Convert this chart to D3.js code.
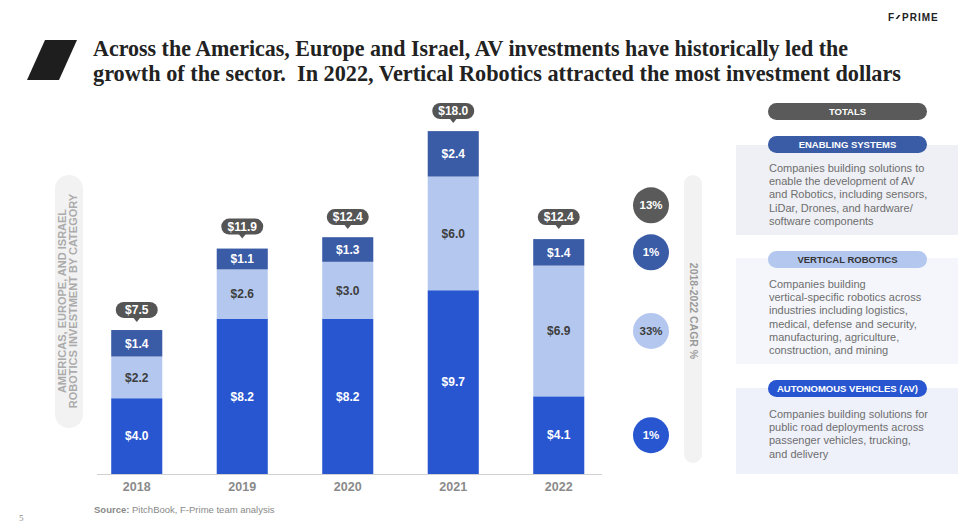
<!DOCTYPE html>
<html>
<head>
<meta charset="utf-8">
<script src="https://cdn.jsdelivr.net/npm/d3@7"></script>
<style>
  body { margin: 0; background: #fff; }
  svg { display: block; font-family: "Liberation Sans", Arial, sans-serif; }
</style>
</head>
<body>
<svg width="958" height="532"></svg>
<script>
// Chart data
const years = ["2018", "2019", "2020", "2021", "2022"];
const avValues = [4.0, 8.2, 8.2, 9.7, 4.1];
const roboticsValues = [2.2, 2.6, 3.0, 6.0, 6.9];
const enablingValues = [1.4, 1.1, 1.3, 2.4, 1.4];
const totalValues = [7.5, 11.9, 12.4, 18.0, 12.4];

const seriesKeys = ["av", "robotics", "enabling"];
const seriesColors = { av: "#2756d0", robotics: "#b4c8ef", enabling: "#3a5ba6" };
const labelColors = { av: "#ffffff", robotics: "#3d3d3d", enabling: "#ffffff" };

const cagrLabels = ["13%", "1%", "33%", "1%"];
const cagrKeys = ["total", "enabling", "robotics", "av"];

const legendTitles = ["TOTALS", "ENABLING SYSTEMS", "VERTICAL ROBOTICS", "AUTONOMOUS VEHICLES (AV)"];
const legendText = [
  [],
  ["Companies building solutions to", "enable the development of AV", "and Robotics, including sensors,", "LiDar, Drones, and hardware/", "software components"],
  ["Companies building", "vertical-specific robotics across", "industries including logistics,", "medical, defense and security,", "manufacturing, agriculture,", "construction, and mining"],
  ["Companies building solutions for", "public road deployments across", "passenger vehicles, trucking,", "and delivery"]
];

const titleLines = [
  "Across the Americas, Europe and Israel, AV investments have historically led the",
  "growth of the sector.  In 2022, Vertical Robotics attracted the most investment dollars"
];

const svg = d3.select("svg");

// Header: logo, mark and title
svg.append("text").attr("x", 888).attr("y", 21)
  .style("font-size", "10px").style("font-weight", "bold")
  .attr("fill", "#222").text("F");
svg.append("polygon").attr("points", "895.5,19 898.5,15 900.5,15 897.5,19").attr("fill", "#222");
svg.append("text").attr("x", 902).attr("y", 21)
  .style("font-size", "10px").style("font-weight", "bold").style("letter-spacing", "1px")
  .attr("fill", "#222").text("PRIME");

svg.append("polygon").attr("points", "45,40 77,40 59,80 27,80").attr("fill", "#1e1e1e");

const titleWidths = [755, 808];
titleLines.forEach((line, i) => {
  svg.append("text")
    .attr("x", 93).attr("y", 56 + i * 25)
    .attr("textLength", titleWidths[i]).attr("lengthAdjust", "spacingAndGlyphs")
    .style("white-space", "pre")
    .style("font-family", "'Liberation Serif', 'DejaVu Serif', serif")
    .style("font-size", "23px").style("font-weight", "bold")
    .attr("fill", "#222").text(line);
});

// Scales
const x = d3.scaleBand().domain(years).range([84, 611.5]).paddingInner(0.516).paddingOuter(0.258);
const y = d3.scaleLinear().domain([0, 18]).range([474, 133]);

const rows = years.map((yr, i) => ({
  year: yr, av: avValues[i], robotics: roboticsValues[i], enabling: enablingValues[i], total: totalValues[i]
}));
const stacked = d3.stack().keys(seriesKeys)(rows);

// Y-axis label pill
svg.append("rect").attr("x", 55).attr("y", 175).attr("width", 28).attr("height", 253)
  .attr("rx", 14).attr("fill", "#f2f2f2");
const yLab = svg.append("text").attr("transform", "translate(68,301) rotate(-90)")
  .attr("text-anchor", "middle").style("font-size", "11px").style("font-weight", "bold").attr("fill", "#ababab");
yLab.append("tspan").attr("x", 0).attr("dy", "-0.15em").text("AMERICAS, EUROPE, AND ISRAEL");
yLab.append("tspan").attr("x", 0).attr("dy", "1.0em").text("ROBOTICS INVESTMENT BY CATEGORY");

// Bars
const layer = svg.append("g").selectAll("g").data(stacked).join("g")
  .attr("fill", d => seriesColors[d.key]);
layer.selectAll("rect").data(d => d).join("rect")
  .attr("x", d => x(d.data.year))
  .attr("y", d => y(d[1]))
  .attr("width", x.bandwidth())
  .attr("height", d => y(d[0]) - y(d[1]));

// Segment labels
stacked.forEach(s => {
  svg.append("g").selectAll("text").data(s).join("text")
    .attr("x", d => x(d.data.year) + x.bandwidth() / 2)
    .attr("y", d => (y(d[0]) + y(d[1])) / 2)
    .attr("dy", "0.36em")
    .attr("text-anchor", "middle")
    .style("font-size", "12px").style("font-weight", "bold")
    .attr("fill", labelColors[s.key])
    .text(d => "$" + d.data[s.key].toFixed(1));
});

// Total call-outs
const callout = svg.append("g").selectAll("g").data(rows).join("g")
  .attr("transform", d => `translate(${x(d.year) + x.bandwidth() / 2},${y(d.total) - 22})`);
callout.append("rect").attr("x", -21).attr("y", -8).attr("width", 42).attr("height", 16)
  .attr("rx", 8).attr("fill", "#555555");
callout.append("path").attr("d", "M-4,7 L4,7 L0,12 Z").attr("fill", "#555555");
callout.append("text").attr("text-anchor", "middle").attr("dy", "0.36em")
  .style("font-size", "12px").style("font-weight", "bold").attr("fill", "#fff")
  .text(d => "$" + d.total.toFixed(1));

// X axis
const xAxis = svg.append("g").attr("transform", "translate(0,474)")
  .call(d3.axisBottom(x).tickSize(0).tickPadding(8));
xAxis.select(".domain").remove();
xAxis.selectAll("text").style("font-size", "12.5px").style("font-weight", "bold")
  .style("font-family", "'Liberation Sans', Arial, sans-serif").attr("fill", "#8a8a8a");
svg.append("line").attr("x1", 97).attr("x2", 602).attr("y1", 474.5).attr("y2", 474.5)
  .attr("stroke", "#d0d0d0");

// CAGR column
svg.append("rect").attr("x", 684).attr("y", 175).attr("width", 18).attr("height", 288)
  .attr("rx", 9).attr("fill", "#f2f2f2");
svg.append("text").attr("transform", "translate(690,311) rotate(90)")
  .attr("text-anchor", "middle").style("font-size", "10.5px").style("font-weight", "bold")
  .attr("fill", "#9a9a9a").text("2018-2022 CAGR %");

const last = stacked.map(s => s[s.length - 1]);
const cagrY = cagrKeys.map(k => {
  if (k === "total") return (y(last[2][0]) + y(last[2][1])) / 2 - 47;
  const s = last[seriesKeys.indexOf(k)];
  return (y(s[0]) + y(s[1])) / 2;
});
const cagrFill = { total: "#5a5a5a", enabling: "#3a5ba6", robotics: "#b4c8ef", av: "#2756d0" };
const cagrText = { total: "#fff", enabling: "#fff", robotics: "#3d3d3d", av: "#fff" };
cagrKeys.forEach((k, i) => {
  svg.append("circle").attr("cx", 651).attr("cy", cagrY[i]).attr("r", 18).attr("fill", cagrFill[k]);
  svg.append("text").attr("x", 651).attr("y", cagrY[i]).attr("dy", "0.36em")
    .attr("text-anchor", "middle").style("font-size", "11.5px").style("font-weight", "bold")
    .attr("fill", cagrText[k]).text(cagrLabels[i]);
});

// Legend panel
const pillY = [103, 136, 251, 380];
const boxes = [null, [145, 235, "#eef0f5"], [258, 364, "#f4f6fb"], [388, 474, "#eef1fa"]];
const pillFill = ["#5a5a5a", "#3a5ba6", "#b4c8ef", "#2756d0"];
const pillText = ["#fff", "#fff", "#333", "#fff"];
const textStart = [0, 168, 284, 414];
legendTitles.forEach((t, i) => {
  if (boxes[i]) {
    svg.append("rect").attr("x", 736).attr("y", boxes[i][0]).attr("width", 222)
      .attr("height", boxes[i][1] - boxes[i][0]).attr("fill", boxes[i][2]);
  }
  svg.append("rect").attr("x", 768).attr("y", pillY[i]).attr("width", 159).attr("height", 17)
    .attr("rx", 8.5).attr("fill", pillFill[i]);
  svg.append("text").attr("x", 847.5).attr("y", pillY[i] + 8.5).attr("dy", "0.36em")
    .attr("text-anchor", "middle").style("font-size", "9.5px").style("font-weight", "bold")
    .attr("fill", pillText[i]).text(t);
  legendText[i].forEach((line, j) => {
    svg.append("text").attr("x", 769).attr("y", textStart[i] + j * 13.2).attr("dy", "0.36em")
      .style("font-size", "11px").attr("fill", "#6e6e6e").text(line);
  });
});

// Footer
const src = svg.append("text").attr("x", 94).attr("y", 513).style("font-size", "9.5px").attr("fill", "#8a8a8a");
src.append("tspan").style("font-weight", "bold").text("Source: ");
src.append("tspan").text("PitchBook, F-Prime team analysis");
svg.append("text").attr("x", 19).attr("y", 521).style("font-family", "'Liberation Serif', serif")
  .style("font-size", "9px").attr("fill", "#888").text("5");
</script>
</body>
</html>
